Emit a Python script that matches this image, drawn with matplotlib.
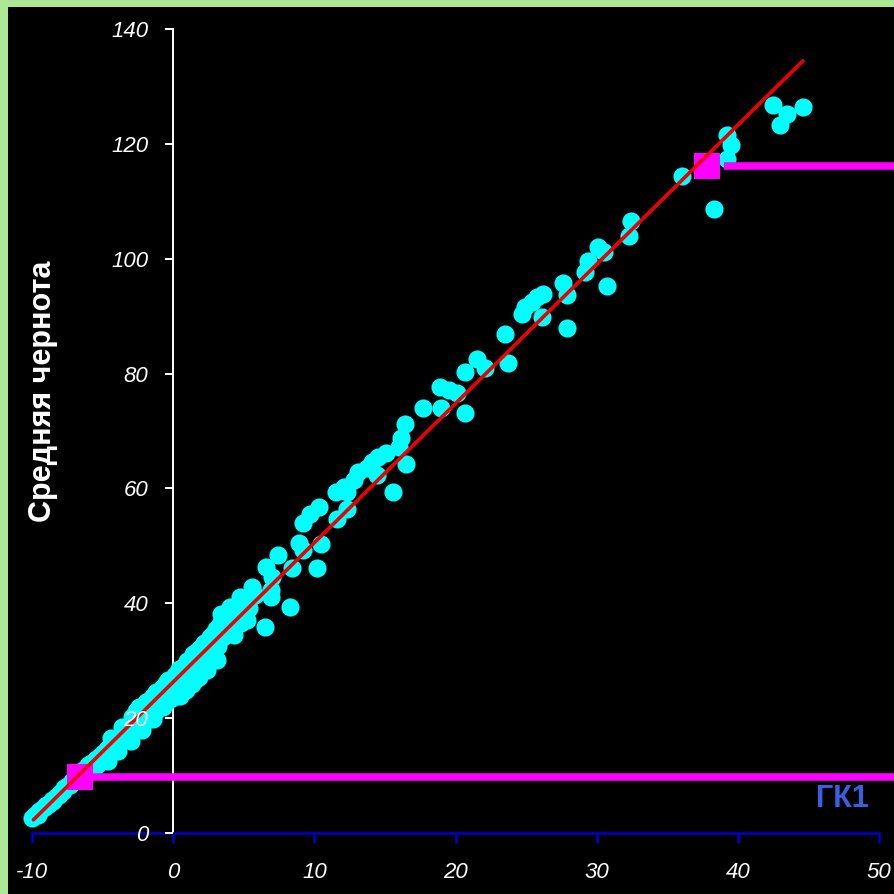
import matplotlib
matplotlib.use("Agg")
import matplotlib.pyplot as plt
import numpy as np

plt.rcParams['font.family'] = ['Liberation Sans', 'DejaVu Sans']
plt.rcParams['axes.unicode_minus'] = False

# --- measured points: ГК1 value vs. mean blackness ---
gk1 = [
    # dense lower part
    -10.0, -9.8, -9.6, -9.5, -9.3, -9.1, -9.0, -8.8, -8.6, -8.5, -8.3, -8.1,
    -8.0, -7.8, -7.7, -7.5, -7.3, -7.2, -7.0, -6.9, -6.7, -6.5, -6.4, -6.2,
    -6.0, -5.9, -5.8, -5.6, -5.5, -5.4, -5.2, -5.1, -5.0, -4.9, -4.7, -4.6,
    -4.5, -4.3, -4.2, -4.1, -3.9, -3.8, -3.6, -3.5, -3.4, -3.2, -3.1,
    -3.0, -2.9, -2.8, -2.7, -2.6, -2.5, -2.4, -2.3, -2.2, -2.1, -2.0, -1.9,
    -1.8, -1.7, -1.6, -1.5, -1.4, -1.3, -1.2, -1.1, -1.0, -0.9, -0.8, -0.7,
    -0.6, -0.5, -0.4, -0.3, -0.2, -0.1, 0.0, 0.1, 0.2, 0.3, 0.4, 0.5, 0.6,
    0.7, 0.8, 0.9, 1.0, 1.1, 1.2, 1.3, 1.4, 1.5, 1.6, 1.7, 1.8, 1.9, 2.0,
    2.2, 2.3, 2.4, 2.5, 2.6, 2.7, 2.9, 3.0, 3.1, 3.2, 3.3, 3.4, 3.5, 3.7,
    3.9, 4.0, 4.2, 4.3, 4.5, 4.7, 4.8, 5.0, 5.1, 5.2, 5.4, 5.6, 5.8,
    -5.7, -5.3, -4.8, -4.4, -4.0, -3.7, -3.3, -2.9, -2.5, -2.1, -1.7, -1.3,
    -0.9, -0.5, -0.1, 0.3, 0.8, 1.3, 1.8, 2.3,
    -2.6, -1.9, -1.2, -0.4, 0.4, 1.0, 1.6, 2.2, 2.8,
    -4.6, -3.9, -3.0, -2.2, -1.4, -4.4, -3.6, -2.9,
    # sparser upper part
    6.9, 6.9, 8.3, 6.5, 7.0, 6.6, 8.4, 10.2, 7.4, 9.2, 8.9, 10.5, 9.2, 11.6,
    10.3, 9.7, 12.3, 11.5, 12.3, 12.1, 12.8, 13.1, 14.4, 13.7, 14.1, 14.5,
    15.1, 16.5, 15.6, 16.0, 16.1, 16.4, 17.7, 19.0, 20.7, 18.9, 19.5, 20.1,
    20.7, 21.5, 22.1, 23.7, 23.5, 24.7, 24.9, 25.4, 25.8, 26.2, 26.1, 27.6,
    27.9, 27.9, 29.2, 29.4, 30.1, 30.5, 30.7, 32.4, 32.3, 36.0, 38.3, 39.2,
    39.5, 39.2, 42.5, 43.5, 44.6, 43.0,
]
blackness = [
    2.6, 3.2, 3.2, 3.9, 4.1, 4.6, 4.9, 5.1, 5.8, 5.5, 6.3, 6.7,
    7.0, 7.4, 7.8, 8.2, 8.4, 9.0, 9.2, 9.4, 10.1, 10.2, 10.9, 11.1,
    11.8, 11.0, 12.2, 11.9, 12.8, 11.8, 13.4, 12.6, 14.0, 13.1, 14.6, 13.6,
    15.2, 14.2, 15.9, 14.9, 16.6, 15.6, 17.3, 16.2, 17.9, 17.0, 18.6,
    17.6, 19.5, 18.4, 20.1, 19.0, 20.6, 21.9, 19.6, 20.8, 22.3, 20.2, 21.6,
    22.9, 20.9, 23.3, 22.0, 23.8, 21.6, 22.8, 24.5, 22.2, 23.5, 25.3, 21.9,
    24.0, 26.1, 23.1, 25.0, 26.7, 23.8, 25.6, 27.5, 24.3, 26.4, 28.2, 23.9, 25.8,
    27.3, 29.0, 24.9, 26.4, 28.3, 30.0, 27.0, 31.2, 29.1, 26.8, 30.5, 28.0, 32.2, 29.6,
    31.0, 33.0, 28.4, 32.0, 34.2, 30.4, 33.3, 35.5, 30.1, 32.6, 36.4, 38.2, 34.2, 35.8,
    37.2, 39.4, 35.2, 34.5, 38.0, 41.1, 36.6, 40.6, 37.4, 37.1, 39.2, 42.9, 41.5,
    11.2, 12.2, 13.4, 14.5, 15.3, 16.0, 16.6, 17.6, 18.6, 19.4, 20.3, 21.1,
    22.0, 22.8, 23.5, 24.2, 25.0, 26.0, 27.2, 28.5,
    21.2, 22.8, 24.6, 26.6, 28.6, 30.0, 31.6, 33.1, 34.6,
    12.5, 14.3, 16.0, 18.0, 19.8, 16.6, 18.4, 20.2,
    42.3, 41.1, 39.4, 35.9, 44.6, 46.4, 46.2, 46.1, 48.4, 49.3, 50.5, 50.3, 54.0, 54.7,
    56.8, 55.6, 56.5, 59.4, 59.4, 60.3, 61.5, 62.8, 62.3, 63.5, 64.6, 65.5,
    66.1, 64.2, 59.4, 67.2, 68.7, 71.3, 74.0, 74.0, 73.1, 77.6, 77.2, 76.6,
    80.3, 82.6, 81.0, 81.9, 86.9, 90.3, 91.6, 92.5, 93.4, 93.8, 89.8, 95.7,
    93.6, 88.0, 97.7, 99.6, 102.1, 101.2, 95.2, 106.5, 103.9, 114.4, 108.7, 117.4,
    119.8, 121.5, 126.8, 125.2, 126.4, 123.3,
]

# linear fit
fit_slope = 2.425
fit_intercept = 26.3
fit_x_range = [-9.9, 44.6]

# reference levels (square marker + horizontal level line)
level_x = [-6.6, 37.8]
level_y = [9.7, 116.2]
level_line_start = [-6.6, 39.0]
level_line_end = 60.0

x_ticks = [-10, 0, 10, 20, 30, 40, 50]
y_ticks = [0, 20, 40, 60, 80, 100, 120, 140]
y_title = "Средняя чернота"
series_title = "ГК1"

W, H = 895, 894
fig = plt.figure(figsize=(W / 100, H / 100), dpi=100, facecolor='#ade896')
ax = fig.add_axes([8 / W, 0, 887 / W, 887 / H], facecolor='black')

ax.set_xlim(-11.70, 51.12)
ax.set_ylim(-10.62, 143.83)

# points
ax.scatter(gk1, blackness, s=170, c='#00ffff', linewidths=0, zorder=2)

# level markers and lines
for x0, y0, xs in zip(level_x, level_y, level_line_start):
    ax.plot([xs, level_line_end], [y0, y0], color='#ff00ff', lw=5.4,
            solid_capstyle='butt', zorder=3)
ax.scatter(level_x, level_y, marker='s', s=18.5 ** 2, c='#ff00ff',
           linewidths=0, zorder=3)

# fitted line
fx = np.array(fit_x_range)
ax.plot(fx, fit_slope * fx + fit_intercept, color='#ee0000', lw=2.6,
        solid_capstyle='round', zorder=4)

# axes through the origin; spines sit under the points, tick labels on top
for side in ('top', 'right'):
    ax.spines[side].set_visible(False)
ax.spines['left'].set_position(('data', 0))
ax.spines['left'].set_bounds(0, 140)
ax.spines['left'].set_color('white')
ax.spines['left'].set_linewidth(1.4)
ax.spines['left'].set_zorder(1)
ax.spines['bottom'].set_position(('data', 0))
ax.spines['bottom'].set_bounds(-10, 50)
ax.spines['bottom'].set_color('#0000cc')
ax.spines['bottom'].set_linewidth(1.8)
ax.spines['bottom'].set_zorder(1)
ax.yaxis.set_zorder(5)
ax.xaxis.set_zorder(5)

ax.set_xticks(x_ticks)
ax.set_yticks(y_ticks)
ax.set_xticklabels([str(v) for v in x_ticks])
ax.set_yticklabels([str(v) for v in y_ticks])
ax.tick_params(axis='y', direction='out', length=6, width=1.4, color='white',
               labelcolor='white', labelsize=16, pad=12)
ax.tick_params(axis='x', direction='out', length=7, width=1.8, color='#0000cc',
               labelcolor='white', labelsize=16, pad=14)
for lab in ax.get_xticklabels() + ax.get_yticklabels():
    lab.set_fontstyle('italic')

ax.set_ylabel(y_title, color='white', fontsize=22, fontweight='bold')
ax.yaxis.set_label_coords(0.056, 0.567)

ax.text(47.4, 5.9, series_title, color='#3a5fe0', fontsize=22,
        fontweight='bold', ha='center', va='center')

fig.savefig('out.png', dpi=100, facecolor=fig.get_facecolor())
